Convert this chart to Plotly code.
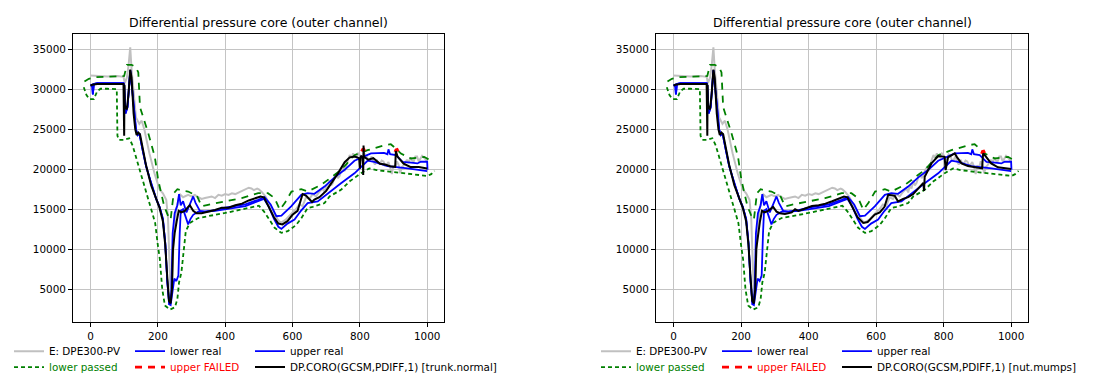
import plotly.graph_objects as go

# ---------------- data ----------------
x_ticks = [0, 200, 400, 600, 800, 1000]
y_ticks = [5000, 10000, 15000, 20000, 25000, 30000, 35000]
panel_titles = ["Differential pressure core (outer channel)", "Differential pressure core (outer channel)"]
black_names = ["DP.CORO(GCSM,PDIFF,1) [trunk.normal]", "DP.CORO(GCSM,PDIFF,1) [nut.mumps]"]

# E: DPE300-PV (gray)
gray_x = [0, 20, 50, 80, 98, 102, 108, 113, 118, 122, 128, 135, 145, 152, 160, 175, 190, 205, 215, 225,
          230, 234, 238, 242, 248, 255, 265, 275, 290,
          300, 310, 320, 330, 340, 350, 360, 370, 380, 390, 400, 410, 420, 430, 440, 450, 460, 470, 478,
          485, 495, 500, 510, 520, 540, 555, 565, 580,
          600, 610, 620, 630, 640, 650, 660, 670, 680, 690, 695, 700, 705, 710, 715, 720, 725, 730, 735,
          740, 745, 750, 755, 760, 765, 770, 775, 780, 785, 790, 795, 800, 805, 810, 815, 820, 825, 830,
          835, 840, 845, 850, 855, 860, 865, 870, 875, 880, 885, 890, 895, 900, 905, 910, 915, 920, 925,
          930, 935, 940, 945, 950, 955, 960, 965, 970, 975, 980, 985, 990, 995, 1000]
gray_y = [31750, 31700, 31650, 31700, 31600, 30800, 31500, 33000, 35300, 32500, 29500, 26500, 25700, 26100,
          25000, 22000, 19500, 17500, 17000, 16200, 14000, 8000, 4200, 6000, 12000, 15000, 16900, 16500,
          16800,
          16600, 16800, 16500, 16300, 16400, 16500, 16600, 16400, 16800, 16700, 16900, 16800, 17000, 16900,
          17100, 17200, 17500, 17700, 17600, 17400, 17600, 17500, 17100, 16600, 15000, 13800, 13300, 13700,
          14600, 15000, 15600, 15400, 16500, 16300, 16900, 16600, 17200, 17600, 17100, 18000, 17600, 18600,
          18000, 18300, 19000, 19500, 18900, 19200, 19900, 20200, 19800, 20600, 21200, 21800, 21400, 22000,
          21600, 21500, 22000, 21800, 21200, 21300, 21900, 21700, 21100, 21200, 21600, 21000, 20600, 21200,
          20800, 20700, 21100, 21000, 20500, 20600, 20900, 20300, 19400, 20500, 20200, 21000, 20600, 19500,
          20300, 20500, 20900, 21200, 20800, 21500, 21100, 21000, 21600, 21600, 21000, 21300, 21700, 21500,
          21200, 21000]

# lower real (blue)
lreal_x = [0, 5, 7, 10, 20, 98, 100, 104, 110, 118, 125, 135, 140, 145, 155, 165, 180, 195, 205, 215,
           222, 228, 234, 238, 244, 249, 255, 261, 265, 268, 275, 283, 290, 297, 305, 320, 340, 370, 400,
           430, 460, 490, 515, 530, 545, 558, 567, 585, 606, 625, 645, 675, 705, 744, 784, 823, 843, 882,
           942, 1000]
lreal_y = [30500, 30600, 29400, 30700, 30800, 30800, 30500, 27000, 27800, 32400, 29500, 25000, 24300,
           24500, 22400, 20400, 18300, 16300, 15300, 13800, 10800, 6000, 3100, 3000, 4800, 6300, 6000,
           6700, 12000, 14800, 15000, 14100, 13100, 13800, 14300, 14700, 14700, 14800, 15000, 15200, 15400,
           15900, 16300, 15300, 13800, 12800, 12540, 13200, 13700, 14800, 15770, 15980, 17010, 18260, 19500,
           21080, 20950, 20410, 20120, 19790]

# upper real (blue)
ureal_x = [0, 5, 7, 10, 20, 98, 100, 104, 110, 118, 125, 135, 140, 145, 155, 165, 180, 195, 205, 215,
           222, 228, 234, 240, 244, 250, 258, 263, 268, 275, 285, 295, 305, 312, 325, 340, 370, 400, 430,
           460, 498, 517, 535, 552, 567, 596, 626, 645, 665, 695, 725, 754, 784, 813, 833, 872, 882, 885,
           890, 907, 927, 952, 971, 981, 996, 1000, 1001]
ureal_y = [30500, 30600, 29400, 30700, 30800, 30800, 30500, 27000, 27800, 32400, 29500, 25000, 24300,
           24500, 22400, 20400, 18300, 16300, 15300, 13800, 10800, 6000, 3000, 4500, 12000, 14500, 15500,
           16900, 15500, 16000, 14600, 15500, 16600, 15800, 14800, 14700, 14900, 15200, 15400, 15600, 16190,
           16520, 15600, 14120, 14200, 15360, 16810, 17010, 16930, 17840, 19000, 19910, 21080, 21660, 21990,
           22070, 21900, 22500, 21900, 21780, 20950, 20830, 20740, 20950, 20950, 20950, 19950]

# lower limit (green dashed, passed)
llim_x = [-20, -12, -3, 10, 20, 30, 50, 78, 80, 85, 100, 115, 125, 135, 150, 165, 180, 192, 200, 206,
          213, 221, 236, 251, 258, 263, 270, 277, 283, 295, 320, 400, 450, 500, 515, 530, 547, 567, 586,
          610, 625, 645, 660, 695, 710, 744, 770, 803, 828, 850, 892, 942, 1001, 1012, 1022]
llim_y = [30300, 29300, 28800, 28800, 29800, 30100, 30100, 30050, 24200, 23700, 23700, 23900, 23000,
          21500, 19300, 17000, 15000, 13290, 10500, 8730, 5000, 2925, 2430, 2720, 3750, 5830, 7070, 10390,
          12250, 13290, 13900, 14530, 15000, 15440, 14740, 13700, 12670, 12040, 12250, 13000, 13800, 15150,
          15300, 15770, 16600, 17430, 18500, 19500, 20120, 19900, 19700, 19420, 19170, 19400, 19800]

# upper limit (green dashed)
ulim_x = [-18, -5, 15, 50, 97, 100, 108, 122, 135, 142, 147, 157, 172, 191, 201, 219, 231, 238, 242,
          247, 258, 275, 290, 305, 315, 330, 349, 399, 449, 498, 527, 547, 562, 577, 597, 626, 645, 685,
          744, 784, 823, 873, 892, 907, 922, 952, 991, 1011]
ulim_y = [31000, 31350, 31550, 31600, 31700, 31700, 33100, 33100, 32800, 32140, 27790, 26540, 24470,
          21570, 18670, 15360, 14120, 13700, 15000, 17000, 17510, 17300, 17220, 16900, 16810, 15360, 15560,
          15980, 16390, 17010, 17010, 16390, 14940, 15770, 17220, 17510, 17220, 18050, 19910, 21780, 22400,
          23020, 23150, 22610, 21980, 21360, 21570, 21080]

# upper FAILED (red) per panel
fail1_x = [805, 808, 812, 815, None, 904, 907, 911, 914]
fail1_y = [22250, 22500, 22550, 22300, None, 22200, 22450, 22500, 22250]
fail2_x = [912, 915, 919, 922]
fail2_y = [21950, 22250, 22300, 22050]

# DP.CORO (black), left panel
blk1_x = [0, 5, 20, 98, 100, 101, 102, 108, 113, 118, 122, 128, 133, 137, 142, 147, 155, 165, 180, 195,
          205, 215, 222, 228, 233, 238, 242, 245, 250, 256, 262, 270, 280, 290, 295, 305, 315, 330, 350,
          370, 390, 410, 430, 450, 470, 490, 505, 515, 530, 545, 558, 570, 585, 600, 615, 630, 640, 650,
          658, 665, 680, 700, 715, 735, 755, 770, 785, 798, 800, 803, 809, 810, 811, 812, 815, 825, 840,
          850, 860, 875, 890, 905, 907, 912, 920, 930, 950, 975, 1000]
blk1_y = [30500, 30600, 30700, 30700, 24200, 30600, 28000, 27500, 29500, 32500, 31500, 27000, 25000,
          24300, 24600, 24400, 22500, 20500, 18000, 16200, 15200, 13500, 10500, 6500, 3500, 3200, 5000,
          10000, 12000, 13500, 14800, 14600, 14800, 15300, 15500, 14800, 14500, 14500, 14700, 14900, 15200,
          15200, 15500, 15700, 16100, 16400, 16600, 16500, 15200, 14000, 13200, 13100, 13500, 14300, 14800,
          16900, 16700, 16300, 15900, 16200, 16500, 17300, 18200, 19500, 20900, 21500, 21600, 21400, 20100,
          21700, 21500, 19300, 23000, 21600, 21500, 21200, 21400, 21000, 20700, 20600, 20400, 20300, 22300,
          21600, 21200, 20700, 20300, 20300, 20100]

# DP.CORO (black), right panel
blk2_x = [0, 5, 20, 98, 100, 101, 102, 108, 113, 118, 122, 128, 133, 137, 142, 147, 155, 165, 180, 195,
          205, 215, 222, 228, 233, 238, 242, 245, 250, 256, 262, 270, 280, 290, 295, 305, 315, 330, 350,
          360, 370, 390, 410, 430, 450, 470, 490, 505, 515, 530, 545, 562, 575, 596, 611, 625, 636, 655,
          665, 680, 695, 710, 725, 740, 742, 744, 764, 784, 803, 806, 813, 833, 840, 853, 872, 902, 914,
          917, 922, 941, 961, 1000]
blk2_y = [30500, 30600, 30700, 30700, 24200, 30600, 28000, 27500, 29500, 32500, 31500, 27000, 25000,
          24300, 24600, 24400, 22500, 20500, 18000, 16200, 15200, 13500, 10500, 6500, 3500, 3200, 5000,
          10000, 12000, 13500, 14800, 14600, 14800, 15200, 15300, 14700, 14500, 14400, 14600, 15000, 14800,
          15100, 15400, 15500, 15700, 16000, 16300, 16600, 16500, 15200, 14000, 13290, 13400, 14320, 14600,
          15300, 16810, 16690, 15980, 16300, 16520, 16900, 17640, 18300, 17300, 19080, 20740, 21660, 21570,
          19910, 21490, 21990, 21500, 20740, 20410, 20250, 20120, 21990, 21780, 20740, 20250, 20040]

# ---------------- figure ----------------
FONT = "DejaVu Sans"
W, H = 1100, 374
GRAY, BLUE, GREEN, RED, BLACK = "#c0c0c0", "#0000ff", "#008000", "#ff0000", "#000000"

fig = go.Figure()

# legend slots per panel: text x positions in px for the three columns, two rows
legend_text_x = [[41, 162, 282], [628, 749, 869]]
row_y = [1 - 346 / H, 1 - 362 / H]

panels = [
    dict(xa="x", ya="y", fx=fail1_x, fy=fail1_y, bx=blk1_x, by=blk1_y),
    dict(xa="x2", ya="y2", fx=fail2_x, fy=fail2_y, bx=blk2_x, by=blk2_y),
]

legend_layout = {}
leg_common = dict(orientation="h", font=dict(family=FONT, size=10.4, color="black"),
                  bgcolor="rgba(0,0,0,0)", borderwidth=0, xanchor="left", yanchor="middle",
                  itemclick=False)
counter = [0]


def new_legend(panel, row, col):
    counter[0] += 1
    key = "legend" if counter[0] == 1 else "legend%d" % counter[0]
    legend_layout[key] = dict(x=(legend_text_x[panel][col] - 40) / W, y=row_y[row], **leg_common)
    return key


for i, p in enumerate(panels):
    common = dict(xaxis=p["xa"], yaxis=p["ya"], mode="lines", hoverinfo="skip")
    fig.add_trace(go.Scatter(x=gray_x, y=gray_y, name="E: DPE300-PV", legend=new_legend(i, 0, 0),
                             line=dict(color=GRAY, width=2), **common))
    fig.add_trace(go.Scatter(x=llim_x, y=llim_y, name='<span style="color:#008000">lower passed</span>',
                             legend=new_legend(i, 1, 0),
                             line=dict(color=GREEN, width=1.8, dash="4px,3px"), **common))
    fig.add_trace(go.Scatter(x=ulim_x, y=ulim_y, name="upper limit", showlegend=False,
                             line=dict(color=GREEN, width=1.8, dash="7px,6px"), **common))
    fig.add_trace(go.Scatter(x=lreal_x, y=lreal_y, name="lower real", legend=new_legend(i, 0, 1),
                             line=dict(color=BLUE, width=1.8), **common))
    fig.add_trace(go.Scatter(x=ureal_x, y=ureal_y, name="upper real", legend=new_legend(i, 0, 2),
                             line=dict(color=BLUE, width=1.8), **common))
    fig.add_trace(go.Scatter(x=p["fx"], y=p["fy"], name='<span style="color:#ff0000">upper FAILED</span>',
                             legend=new_legend(i, 1, 1), connectgaps=False,
                             line=dict(color=RED, width=2.6, dash="7px,6px"), **common))
    fig.add_trace(go.Scatter(x=p["bx"], y=p["by"], name=black_names[i], legend=new_legend(i, 1, 2),
                             line=dict(color=BLACK, width=2), **common))

dom_x = [[65 / W, 436 / W], [648 / W, 1020 / W]]
dom_y = [1 - 317 / H, 1 - 26 / H]

axis_common = dict(
    showline=True, linecolor="black", linewidth=1, mirror=True,
    showgrid=True, gridcolor="#c4c4c4", gridwidth=1, zeroline=False,
    ticks="outside", ticklen=4, tickcolor="black", tickwidth=1,
    tickfont=dict(family=FONT, size=10.4, color="black"),
)
layout_axes = {}
for i in range(2):
    sx = "" if i == 0 else "2"
    layout_axes["xaxis" + sx] = dict(domain=dom_x[i], range=[-52, 1050], tickvals=x_ticks,
                                     ticktext=[str(v) for v in x_ticks], anchor="y" + sx, **axis_common)
    layout_axes["yaxis" + sx] = dict(domain=dom_y, range=[810, 36990], tickvals=y_ticks,
                                     ticktext=[str(v) for v in y_ticks], anchor="x" + sx, **axis_common)

annotations = []
for i in range(2):
    annotations.append(dict(text=panel_titles[i], xref="paper", yref="paper",
                            x=(dom_x[i][0] + dom_x[i][1]) / 2, y=1 - 15 / H,
                            xanchor="center", yanchor="middle", showarrow=False,
                            font=dict(family=FONT, size=12.5, color="black")))

fig.update_layout(
    width=W, height=H, margin=dict(l=0, r=0, t=0, b=0),
    paper_bgcolor="white", plot_bgcolor="white",
    showlegend=True,
    annotations=annotations,
    **legend_layout,
    **layout_axes,
)

fig.write_html("out.html")
